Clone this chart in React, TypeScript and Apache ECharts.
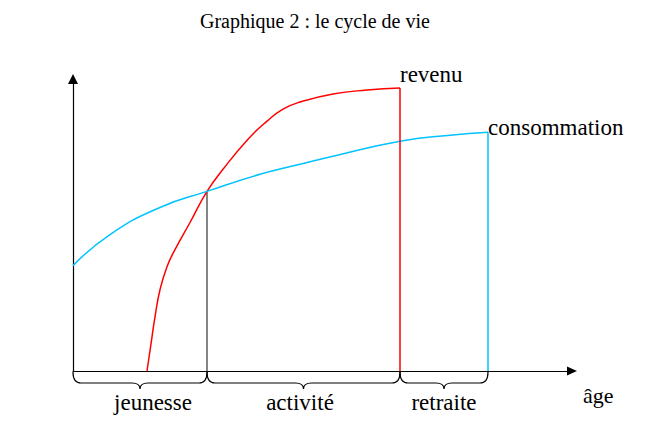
import React, { useEffect, useRef } from 'react';
import * as echarts from 'echarts';

const titleText = 'Graphique 2 : le cycle de vie';
const axisName = 'âge';

// life-cycle curves (x: age units, y: amount units)
const revenuX = [74, 78, 82, 87, 94, 102, 117, 134, 150, 175, 194, 210, 227, 260, 294, 327];
const revenuY = [0, 27, 54, 81, 104, 121, 148, 179, 201, 231, 249, 261, 268, 276, 280, 282];
const consoX = [0, 37, 87, 134, 187, 227, 260, 327, 377, 415];
const consoY = [105, 136, 163, 179, 196, 206, 214, 229, 235, 238];
const seriesNames = ['revenu', 'consommation'];

// phases of life
const phases = ['jeunesse', 'activité', 'retraite'];
const phaseStart = [0, 134, 327];
const phaseEnd = [134, 327, 415];
const phaseLabelAt = [80, 227, 371];

const xMax = 499;
const yMax = 291;

const FONT = '"Liberation Serif", "Times New Roman", serif';
const RED = '#ff0000';
const BLUE = '#00c3ff';

export default function App() {
  const ref = useRef<HTMLDivElement>(null);
  useEffect(() => {
    if (!ref.current) return;
    const chart = echarts.init(ref.current, undefined, { renderer: 'svg' });
    const revenuData = revenuX.map((x, i) => [x, revenuY[i]]);
    const consoData = consoX.map((x, i) => [x, consoY[i]]);
    const rEnd = revenuData[revenuData.length - 1];
    const cEnd = consoData[consoData.length - 1];
    const crossIdx = consoX.indexOf(phaseStart[1]);
    const cross = [consoX[crossIdx], consoY[crossIdx]];
    const endLabels = [rEnd, cEnd];
    const labelShift = [[0, -14], [0, -5]];

    const option: any = {
      animation: false,
      backgroundColor: '#fff',
      title: {
        text: titleText,
        left: 200,
        top: 11,
        padding: 0,
        textStyle: { fontFamily: FONT, fontSize: 20, fontWeight: 'normal', color: '#000' },
      },
      grid: { left: 73, right: 80, top: 79, bottom: 53, containLabel: false },
      xAxis: {
        type: 'value', min: 0, max: xMax,
        name: axisName, nameLocation: 'end', nameGap: 11,
        nameTextStyle: { fontFamily: FONT, fontSize: 22, color: '#000', align: 'left', verticalAlign: 'top', padding: [13, 0, 0, 0] },
        axisLine: { show: true, symbol: ['none', 'triangle'], symbolSize: [9, 10], lineStyle: { color: '#000', width: 1.2 } },
        axisTick: { show: false }, axisLabel: { show: false }, splitLine: { show: false },
      },
      yAxis: {
        type: 'value', min: 0, max: yMax,
        axisLine: { show: true, symbol: ['none', 'triangle'], symbolSize: [10, 10], lineStyle: { color: '#000', width: 1.2 } },
        axisTick: { show: false }, axisLabel: { show: false }, splitLine: { show: false },
      },
      series: [
        {
          name: seriesNames[0], type: 'line', data: revenuData, smooth: 0.5,
          showSymbol: false, lineStyle: { color: RED, width: 1.5 }, z: 3,
        },
        {
          name: seriesNames[1], type: 'line', data: consoData, smooth: 0.5,
          showSymbol: false, lineStyle: { color: BLUE, width: 1.5 }, z: 3,
        },
        {
          type: 'line', data: [rEnd, [rEnd[0], 0]], showSymbol: false,
          lineStyle: { color: RED, width: 1.5 }, z: 3,
        },
        {
          type: 'line', data: [cEnd, [cEnd[0], 0]], showSymbol: false,
          lineStyle: { color: BLUE, width: 1.5 }, z: 3,
        },
        {
          type: 'line', data: [cross, [cross[0], 0]], showSymbol: false,
          lineStyle: { color: '#333', width: 1.2 }, z: 2,
        },
        {
          type: 'custom', z: 5,
          data: endLabels,
          renderItem: (params: any, api: any) => {
            const i = params.dataIndex;
            const p = api.coord([api.value(0), api.value(1)]);
            return {
              type: 'text',
              style: {
                text: seriesNames[i], x: p[0] + labelShift[i][0], y: p[1] + labelShift[i][1],
                align: 'left', verticalAlign: 'middle',
                font: `23px ${FONT}`, fill: '#000',
              },
            };
          },
        },
        {
          type: 'custom', z: 5,
          data: phases.map((_, i) => [phaseStart[i], phaseEnd[i], phaseLabelAt[i]]),
          renderItem: (params: any, api: any) => {
            const i = params.dataIndex;
            const a = api.coord([api.value(0), 0]);
            const b = api.coord([api.value(1), 0]);
            const l = api.coord([api.value(2), 0]);
            const y0 = a[1] + 1;
            const y1 = a[1] + 12;
            const y2 = a[1] + 18;
            const m = (a[0] + b[0]) / 2;
            const r = 8;
            const d = `M${a[0]},${y0} Q${a[0]},${y1} ${a[0] + r},${y1} L${m - r},${y1} Q${m},${y1} ${m},${y2} Q${m},${y1} ${m + r},${y1} L${b[0] - r},${y1} Q${b[0]},${y1} ${b[0]},${y0}`;
            return {
              type: 'group',
              children: [
                { type: 'path', shape: { pathData: d }, style: { fill: 'none', stroke: '#000', lineWidth: 1.2 } },
                {
                  type: 'text',
                  style: {
                    text: phases[i], x: l[0], y: a[1] + 31,
                    align: 'center', verticalAlign: 'middle',
                    font: `23px ${FONT}`, fill: '#000',
                  },
                },
              ],
            };
          },
        },
      ],
    };
    chart.setOption(option);
    return () => chart.dispose();
  }, []);
  return (
    <div
      ref={ref}
      style={{ position: 'absolute', left: 0, top: 0, width: 652, height: 424, background: '#fff' }}
    />
  );
}
